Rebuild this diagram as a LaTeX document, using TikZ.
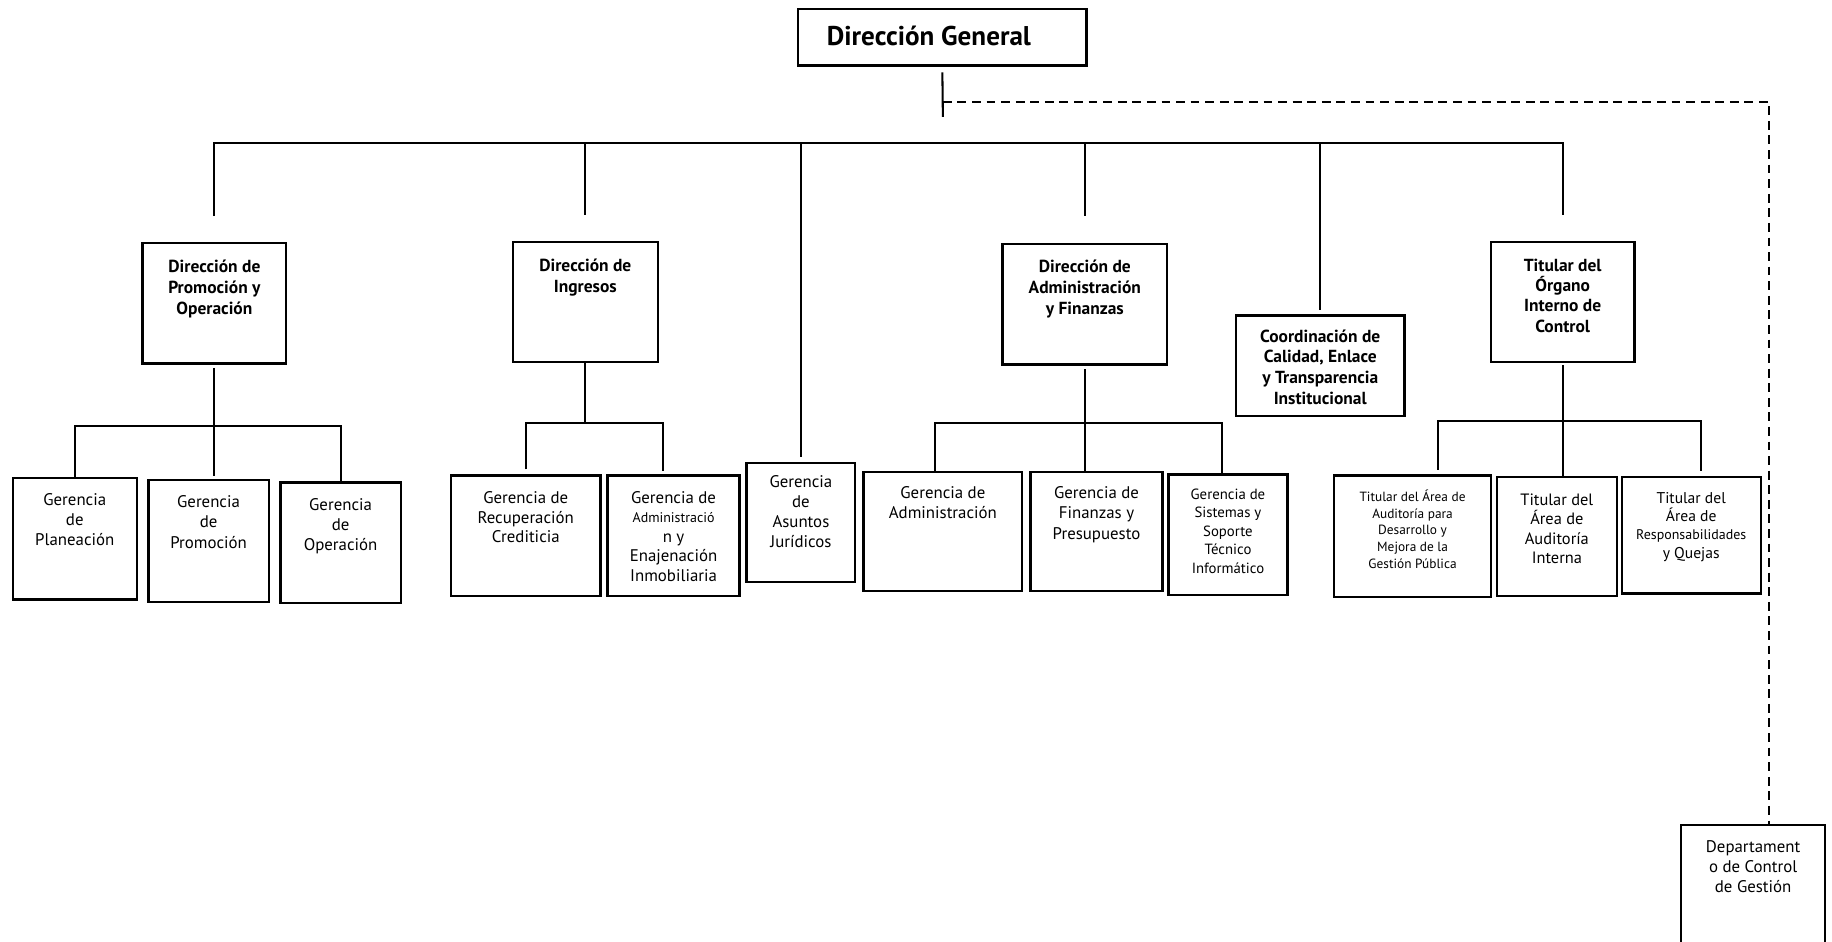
\documentclass[tikz,border=0pt]{standalone}
\usepackage{fontspec}
\setmainfont{PT Sans}
\usetikzlibrary{fit}

\tikzset{
  orgbox/.style={draw, line width=1.1pt, inner sep=0pt},
  dirtext/.style={font=\bfseries\fontsize{8.5}{10.2}\selectfont, align=center, anchor=north, inner sep=0pt},
  gertext/.style={font=\fontsize{8.2}{9.8}\selectfont, align=center, anchor=north, inner sep=0pt},
  conn/.style={line width=1pt},
  dashconn/.style={line width=1pt, dash pattern=on 4.3pt off 2.8pt}
}

\begin{document}
\begin{tikzpicture}[x=0.02cm, y=-0.02cm]
\useasboundingbox (0,0) rectangle (1568,806);

% top
\node[orgbox, fit={(683,8) (930,56)}] (dg) {};
\node[dirtext, anchor=center, font=\bfseries\fontsize{13.2}{15}\selectfont] (tdg) at (795,31) {Dirección General};

% direcciones
\node[orgbox, fit={(122,208) (245,311)}] (dirprom) {};
\node[orgbox, fit={(439,207) (563,310)}] (ding) {};
\node[orgbox, fit={(858,209) (999,312)}] (dirafin) {};
\node[orgbox, fit={(1058,270) (1202,356)}] (coord) {};
\node[orgbox, fit={(1276,207) (1399,310)}] (dtoic) {};
\node[dirtext] (tdirprom) at (183.5,222) {Dirección de\\Promoción y\\Operación};
\node[dirtext] (tding) at (501,221) {Dirección de\\Ingresos};
\node[dirtext] (tdirafin) at (928.5,222) {Dirección de\\Administración\\y Finanzas};
\node[dirtext, font=\bfseries\fontsize{8.5}{10}\selectfont] (tcoord) at (1130,282) {Coordinación de\\Calidad, Enlace\\y Transparencia\\Institucional};
\node[dirtext, font=\bfseries\fontsize{8.5}{9.9}\selectfont] (tdtoic) at (1337.5,221) {Titular del\\Órgano\\Interno de\\Control};

% gerencias
\node[orgbox, fit={(639,396) (732,498)}] (gjur) {};
\node[orgbox, fit={(11,409) (117,513)}] (gplan) {};
\node[orgbox, fit={(127,411) (230,515)}] (gprom) {};
\node[orgbox, fit={(240,413) (343,516)}] (gop) {};
\node[orgbox, fit={(386,407) (514,510)}] (grec) {};
\node[orgbox, fit={(520,407) (633,510)}] (genaj) {};
\node[orgbox, fit={(739,404) (875,506)}] (gadm) {};
\node[orgbox, fit={(882,404) (995,506)}] (gfin) {};
\node[orgbox, fit={(1000,406) (1102,509)}] (gsis) {};
\node[orgbox, fit={(1142,407) (1276,511)}] (gdes) {};
\node[orgbox, fit={(1281,408) (1384,510)}] (gint) {};
\node[orgbox, fit={(1388,408) (1507,508)}] (gresp) {};
\node[orgbox, fit={(1439,706) (1562,815)}] (dcg) {};

\node[gertext, font=\fontsize{8.2}{9.7}\selectfont] (tgjur) at (685.5,407) {Gerencia\\de\\Asuntos\\Jurídicos};
\node[gertext] (tgplan) at (64,422) {Gerencia\\de\\Planeación};
\node[gertext] (tgprom) at (178.5,424) {Gerencia\\de\\Promoción};
\node[gertext] (tgop) at (291.5,426) {Gerencia\\de\\Operación};
\node[gertext, font=\fontsize{8.2}{9.7}\selectfont] (tgrec) at (450,420) {Gerencia de\\Recuperación\\Crediticia};
\node[gertext, font=\fontsize{8.2}{9.5}\selectfont] (tgenaj) at (576.5,420) {Gerencia de\\{\fontsize{6.8}{9.5}\selectfont Administració}\\n y\\Enajenación\\Inmobiliaria};
\node[gertext, font=\fontsize{8.2}{9.7}\selectfont] (tgadm) at (807,416) {Gerencia de\\Administración};
\node[gertext, font=\fontsize{8.2}{10}\selectfont] (tgfin) at (938.5,416) {Gerencia de\\Finanzas y\\Presupuesto};
\node[gertext, font=\fontsize{7.2}{9}\selectfont] (tgsis) at (1051,418) {Gerencia de\\Sistemas y\\Soporte\\Técnico\\Informático};
\node[gertext, font=\fontsize{6.5}{8.1}\selectfont] (tgdes) at (1209,419) {Titular del Área de\\Auditoría para\\Desarrollo y\\Mejora de la\\Gestión Pública};
\node[gertext, font=\fontsize{8}{9.5}\selectfont] (tgint) at (1332.5,422) {Titular del\\Área de\\Auditoría\\Interna};
\node[gertext, font=\fontsize{7.6}{8.9}\selectfont] (tgresp) at (1447.5,421) {Titular del\\Área de\\{\fontsize{6.8}{8.9}\selectfont Responsabilidades}\\y Quejas};
\node[gertext, font=\fontsize{8.2}{9.7}\selectfont] (tdcg) at (1500.5,719) {Departament\\o de Control\\de Gestión};

% lineas
\coordinate (dgend) at (807,100);
\coordinate (dgdash) at (807,87);
\coordinate (bar) at (807,122);
\draw[conn, shorten <=2.8pt] (dg.south) -- (dgend);
\draw[dashconn] (dgdash) -| ([xshift=7.7pt]dcg.north);

\draw[conn, shorten <=12.5pt, shorten >=12.5pt] (dirprom.north) |- (bar) -| (dtoic.north);
\draw[conn, shorten >=12.5pt] (ding.north |- bar) -- (ding.north);
\draw[conn, shorten >=2pt] (gjur.north |- bar) -- (gjur.north);
\draw[conn, shorten >=13pt] (dirafin.north |- bar) -- (dirafin.north);
\draw[conn, shorten >=2.3pt] (coord.north |- bar) -- (coord.north);

\coordinate (hprom) at (182,365);
\draw[conn, shorten <=1.7pt, shorten >=1.7pt] (dirprom.south) -- (dirprom.south |- gprom.north);
\draw[conn] (gplan.north) |- (hprom) -| (gop.north);

\coordinate (hing) at (501,362);
\draw[conn] (ding.south) -- (ding.south |- hing);
\draw[conn, shorten <=2.5pt, shorten >=1.7pt] (grec.north) |- (hing) -| ([xshift=-5pt]genaj.north);

\coordinate (hafin) at (930,362);
\draw[conn, shorten <=1.7pt] (dirafin.south) -- (dirafin.south |- gfin.north);
\draw[conn] ([xshift=-4pt]gadm.north) |- (hafin) -| ([xshift=-2.8pt]gsis.north);

\coordinate (hoic) at (1339,360);
\draw[conn, shorten <=1pt] (dtoic.south) -- (dtoic.south |- gint.north);
\draw[conn, shorten <=2.3pt, shorten >=2.3pt] ([xshift=12.5pt]gdes.north) |- (hoic) -| ([xshift=4.8pt]gresp.north);

\end{tikzpicture}
\end{document}
